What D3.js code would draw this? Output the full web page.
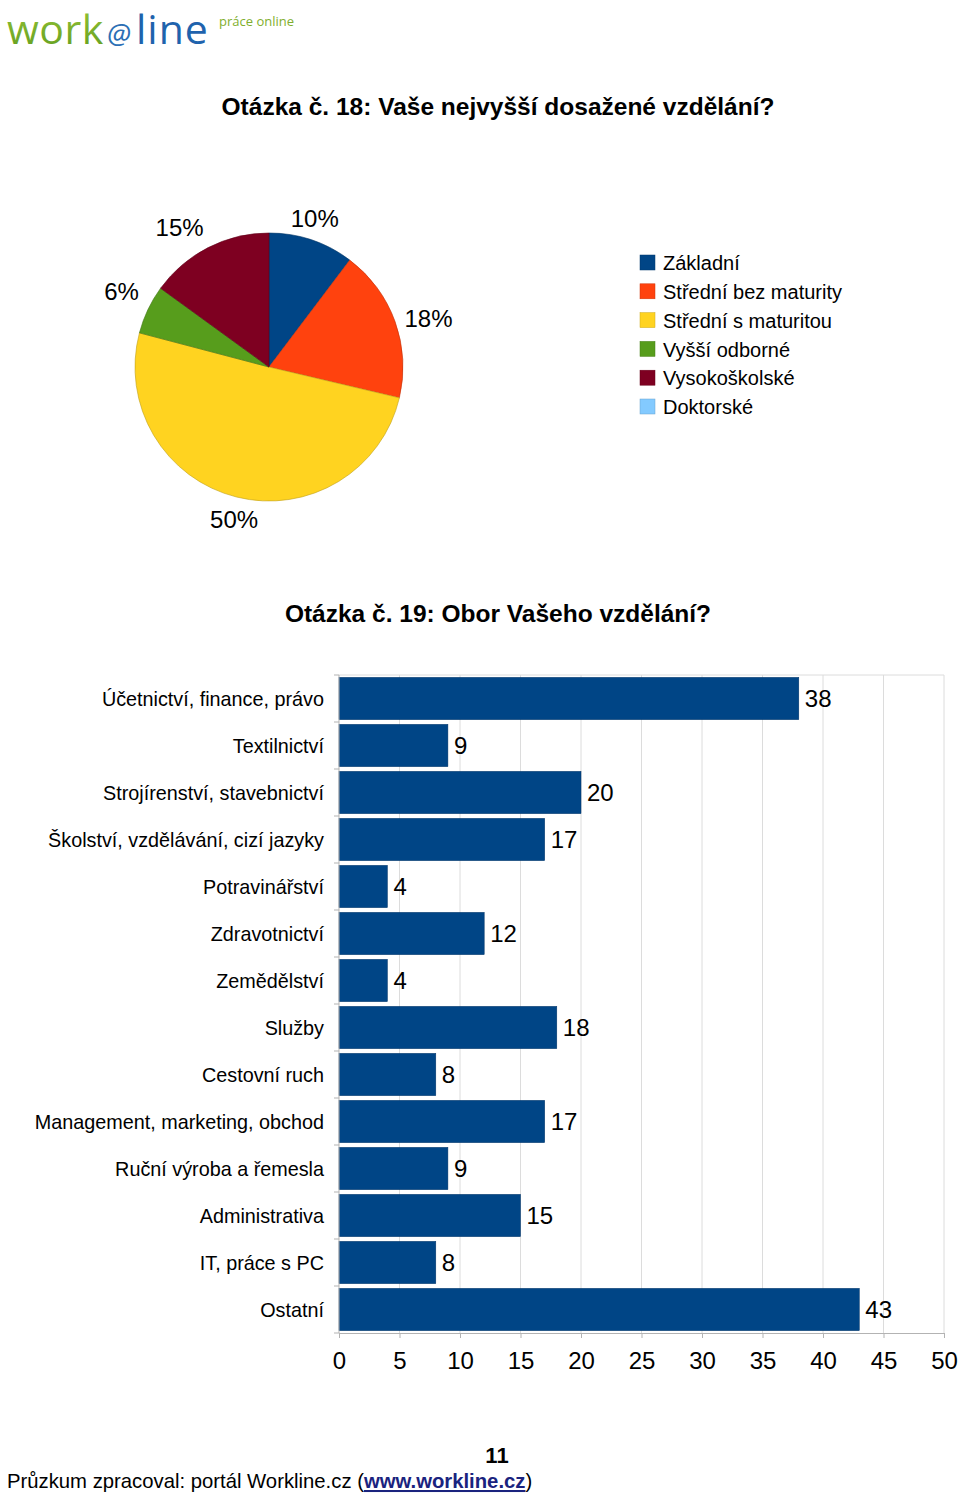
<!DOCTYPE html>
<html>
<head>
<meta charset="utf-8">
<script src="https://cdn.jsdelivr.net/npm/d3@7"></script>
<style>
  html, body { margin: 0; padding: 0; background: #fff; }
  svg { display: block; font-family: "Liberation Sans", Arial, sans-serif; }
</style>
</head>
<body>
<svg id="chart" width="960" height="1497"></svg>
<script>
// ---- Data ----
const pieCategories = ["Základní", "Střední bez maturity", "Střední s maturitou", "Vyšší odborné", "Vysokoškolské", "Doktorské"];
const pieValues = [10.3, 18.4, 50.4, 5.9, 15.0, 0];
const pieColors = ["#004586", "#ff420e", "#ffd320", "#579d1c", "#7e0021", "#83caff"];

const barCategories = ["Účetnictví, finance, právo", "Textilnictví", "Strojírenství, stavebnictví", "Školství, vzdělávání, cizí jazyky", "Potravinářství", "Zdravotnictví", "Zemědělství", "Služby", "Cestovní ruch", "Management, marketing, obchod", "Ruční výroba a řemesla", "Administrativa", "IT, práce s PC", "Ostatní"];
const barValues = [38, 9, 20, 17, 4, 12, 4, 18, 8, 17, 9, 15, 8, 43];
const barTicks = [0, 5, 10, 15, 20, 25, 30, 35, 40, 45, 50];

const svg = d3.select("#chart");

// ---- Logo ----
const logo = svg.append("g");
const grad = svg.append("defs").append("linearGradient").attr("id", "gw").attr("x1", 0).attr("x2", 0).attr("y1", 0).attr("y2", 1);
grad.append("stop").attr("offset", "0%").attr("stop-color", "#9cc83a");
grad.append("stop").attr("offset", "100%").attr("stop-color", "#5d9a1e");
logo.append("text").attr("x", 7).attr("y", 44).attr("font-size", 41).attr("fill", "url(#gw)")
  .attr("font-family", "'Open Sans', sans-serif").attr("letter-spacing", 0.5).text("work");
logo.append("text").attr("x", 107).attr("y", 44).attr("font-size", 28).attr("fill", "#2c6fb5")
  .attr("font-family", "'Open Sans', sans-serif").attr("font-style", "italic").text("@");
logo.append("text").attr("x", 136).attr("y", 44).attr("font-size", 41).attr("fill", "#1f63ad")
  .attr("font-family", "'Open Sans', sans-serif").attr("letter-spacing", 1).text("line");
logo.append("text").attr("x", 219).attr("y", 26).attr("font-size", 13).attr("fill", "#7fae2e")
  .attr("font-family", "'Open Sans', sans-serif").text("práce online");

// ---- Titles ----
svg.append("text").attr("x", 498).attr("y", 115).attr("text-anchor", "middle")
  .attr("font-size", 24.5).attr("font-weight", "bold").attr("fill", "#000")
  .text("Otázka č. 18: Vaše nejvyšší dosažené vzdělání?");
svg.append("text").attr("x", 498).attr("y", 622).attr("text-anchor", "middle")
  .attr("font-size", 24.5).attr("font-weight", "bold").attr("fill", "#000")
  .text("Otázka č. 19: Obor Vašeho vzdělání?");

// ---- Pie ----
const cx = 269, cy = 367, R = 134;
const pie = d3.pie().sort(null).value(d => d)(pieValues);
const arc = d3.arc().innerRadius(0).outerRadius(R);
const gp = svg.append("g").attr("transform", `translate(${cx},${cy})`);
gp.selectAll("path").data(pie.filter(d => d.value > 0)).join("path")
  .attr("d", arc)
  .attr("fill", (d) => pieColors[d.index])
  .attr("stroke", (d) => d3.color(pieColors[d.index]).darker(0.8))
  .attr("stroke-width", 0.6);
const labelR = R + 10, capH = 17;
gp.selectAll("text").data(pie.filter(d => d.value > 0)).join("text")
  .each(function(d) {
    const a = (d.startAngle + d.endAngle) / 2;
    const dx = Math.sin(a), dy = -Math.cos(a);
    const px = dx * labelR, py = dy * labelR;
    const anchor = Math.abs(dx) < 0.4 ? "middle" : (dx > 0 ? "start" : "end");
    let ty;
    if (dy < -0.4) ty = py - 3 - (Math.abs(dx) > 0.8 ? 2 : 0);
    else if (dy > 0.4) ty = py + capH + 4;
    else ty = py + capH / 2;
    d3.select(this).attr("x", px).attr("y", ty).attr("text-anchor", anchor);
  })
  .attr("font-size", 24).attr("fill", "#000")
  .text(d => Math.round(d.value) + "%");

// ---- Legend ----
const lg = svg.append("g").attr("transform", "translate(640,255)");
const lrow = lg.selectAll("g").data(pieCategories).join("g")
  .attr("transform", (d, i) => `translate(0,${i * 28.8})`);
lrow.append("rect").attr("width", 15).attr("height", 15).attr("fill", (d, i) => pieColors[i])
  .attr("stroke", (d, i) => d3.color(pieColors[i]).darker(0.6)).attr("stroke-width", 0.5);
lrow.append("text").attr("x", 23).attr("y", 8).attr("dy", "0.36em").attr("font-size", 20)
  .attr("fill", "#000").text(d => d);

// ---- Bar chart ----
const x0 = 339, x1 = 944, yTop = 675, yBot = 1333;
const x = d3.scaleLinear().domain([0, 50]).range([x0, x1]);
const y = d3.scaleBand().domain(barCategories).range([yTop, yBot]).paddingInner(0.1).paddingOuter(0.05);
const gb = svg.append("g");

// grid
gb.selectAll("line.grid").data(barTicks.slice(1)).join("line").attr("class", "grid")
  .attr("x1", d => x(d)).attr("x2", d => x(d)).attr("y1", yTop).attr("y2", yBot)
  .attr("stroke", "#dcdcdc").attr("stroke-width", 1);
gb.append("line").attr("x1", x0).attr("x2", x1).attr("y1", yTop).attr("y2", yTop)
  .attr("stroke", "#dcdcdc");

// bars
gb.selectAll("rect.bar").data(barValues).join("rect").attr("class", "bar")
  .attr("x", x(0)).attr("y", (d, i) => y(barCategories[i]))
  .attr("width", d => x(d) - x(0)).attr("height", y.bandwidth())
  .attr("fill", "#004586").attr("stroke", "#003366").attr("stroke-width", 0.5);

// value labels
gb.selectAll("text.val").data(barValues).join("text").attr("class", "val")
  .attr("x", d => x(d) + 6).attr("y", (d, i) => y(barCategories[i]) + y.bandwidth() / 2)
  .attr("dy", "0.36em").attr("font-size", 24).attr("fill", "#000").text(d => d);

// x axis
const xAxis = d3.axisBottom(x).tickValues(barTicks).tickSize(5).tickPadding(14).tickFormat(d3.format("d"));
const gx = svg.append("g").attr("transform", `translate(0,${yBot})`).call(xAxis);
gx.select(".domain").attr("stroke", "#b3b3b3");
gx.selectAll(".tick line").attr("stroke", "#b3b3b3");
gx.selectAll(".tick text").attr("font-size", 24).attr("fill", "#000")
  .attr("font-family", "'Liberation Sans', Arial, sans-serif");

// y axis: category labels
const gy = svg.append("g");
gy.append("line").attr("x1", x0).attr("x2", x0).attr("y1", yTop).attr("y2", yBot).attr("stroke", "#b3b3b3");
const step = (yBot - yTop) / barCategories.length;
gy.selectAll("line.tk").data(d3.range(barCategories.length + 1)).join("line").attr("class", "tk")
  .attr("x1", x0 - 5).attr("x2", x0).attr("y1", i => yTop + i * step).attr("y2", i => yTop + i * step)
  .attr("stroke", "#b3b3b3");
gy.selectAll("text").data(barCategories).join("text")
  .attr("x", 324).attr("y", d => y(d) + y.bandwidth() / 2).attr("dy", "0.36em")
  .attr("text-anchor", "end").attr("font-size", 19.8).attr("fill", "#000").text(d => d);

// ---- Footer ----
svg.append("text").attr("x", 497).attr("y", 1463).attr("text-anchor", "middle")
  .attr("font-size", 22).attr("font-weight", "bold").text("11");
const ft = svg.append("text").attr("x", 7).attr("y", 1488).attr("font-size", 20.3).attr("fill", "#000");
ft.append("tspan").text("Průzkum zpracoval: portál Workline.cz (");
ft.append("tspan").attr("fill", "#1a237e").attr("font-weight", "bold").attr("text-decoration", "underline").text("www.workline.cz");
ft.append("tspan").text(")");
</script>
</body>
</html>
